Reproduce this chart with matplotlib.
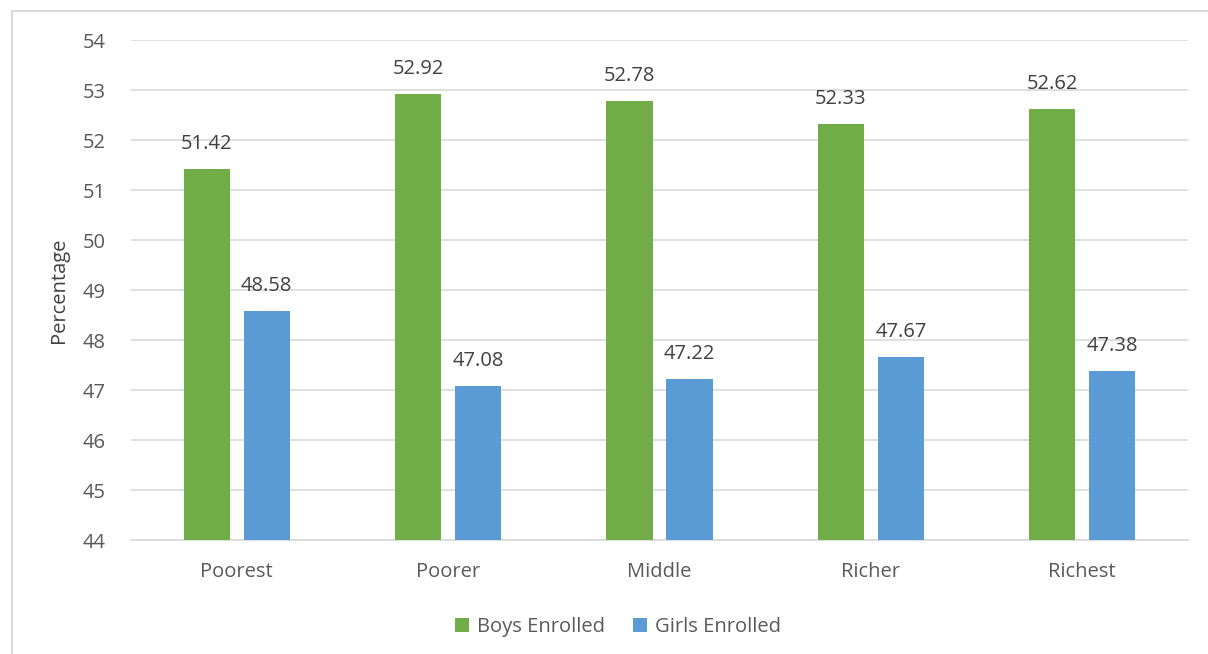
import matplotlib
matplotlib.use("Agg")
import matplotlib.pyplot as plt
import numpy as np
from matplotlib.lines import Line2D

categories = ["Poorest", "Poorer", "Middle", "Richer", "Richest"]
boys = [51.42, 52.92, 52.78, 52.33, 52.62]
girls = [48.58, 47.08, 47.22, 47.67, 47.38]
series_names = ["Boys Enrolled", "Girls Enrolled"]

plt.rcParams['font.family'] = ['Open Sans', 'DejaVu Sans']
txt = "#595959"
fs = 14.5
W, H = 1208, 654
fig = plt.figure(figsize=(W/100, H/100), dpi=100)
ax = fig.add_axes([131/W, 1-540/H, (1188-131)/W, (540-40)/H])

x = np.arange(len(categories))
bw = 0.218
off = 0.142
gb = ax.bar(x - off, boys, bw, color="#70AD47", label=series_names[0], zorder=3)
bb = ax.bar(x + off, girls, bw, color="#5B9BD5", label=series_names[1], zorder=3)
for bars, vals in ((gb, boys), (bb, girls)):
    for r, v in zip(bars, vals):
        ax.annotate(f"{v:.2f}", (r.get_x() + r.get_width()/2, v), xytext=(0, 10.5),
                    textcoords="offset points", ha="center", va="bottom",
                    fontsize=fs, color="#404040")

ax.set_xlim(-0.5, len(categories) - 0.5)
ax.set_ylim(44, 54)
ax.set_yticks(range(44, 55))
ax.set_xticks(x)
ax.set_xticklabels(categories)
ax.tick_params(axis="both", length=0, labelsize=fs, colors=txt)
ax.tick_params(axis="y", pad=18)
ax.tick_params(axis="x", pad=16)
ax.grid(axis="y", color="#D9D9D9", linewidth=1.2, zorder=0)
for s in ("top", "right", "left"):
    ax.spines[s].set_visible(False)
ax.spines["bottom"].set_color("#D9D9D9")
ax.spines["bottom"].set_linewidth(1.2)
ax.set_ylabel("Percentage", fontsize=fs, color="#404040", labelpad=10)

leg = fig.legend(handles=[gb, bb], labels=series_names, loc="center",
                 bbox_to_anchor=(618/W, 1-627/H), ncol=2, frameon=False,
                 fontsize=fs, handlelength=0.7, handleheight=0.7,
                 handletextpad=0.4, columnspacing=1.4)
for t in leg.get_texts():
    t.set_color(txt)

fig.add_artist(Line2D([12/W, 12/W], [0, 1-11/H], transform=fig.transFigure, color="#D9D9D9", lw=1.5))
fig.add_artist(Line2D([12/W, 1], [1-11/H, 1-11/H], transform=fig.transFigure, color="#D9D9D9", lw=1.5))

fig.savefig("out.png", dpi=100, facecolor="white")
